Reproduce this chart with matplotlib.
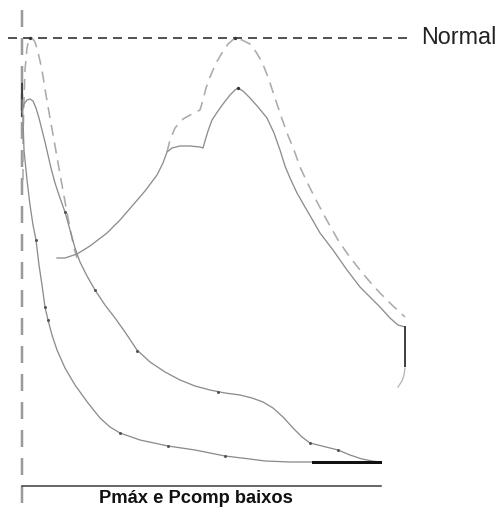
import matplotlib
matplotlib.use("Agg")
import matplotlib.pyplot as plt

plt.rcParams['lines.scale_dashes'] = False

# all coordinates are in picture units (x right, y down)
# dashed "normal" trace, first (left) lobe
norm1_x = [23, 23, 24, 25, 27, 29, 32, 35, 38, 42, 46, 50, 54, 58, 62, 66, 70, 74, 77]
norm1_y = [180, 140, 100, 70, 48, 39, 38, 42, 52, 70, 95, 118, 140, 163, 185, 207, 228, 248, 258]

# dashed "normal" trace, second (right) lobe
norm2_x = [167, 170, 175, 183, 192, 200, 203, 206, 210, 216, 222, 228, 235, 242, 250, 256, 262,
           268, 275, 281, 287, 294, 300, 307, 315, 325, 338, 349, 360, 370, 380, 392, 405]
norm2_y = [152, 140, 128, 119, 114, 110, 100, 88, 77, 63, 53, 44, 38, 40, 44, 52, 62,
           77, 98, 116, 133, 150, 167, 182, 198, 217, 240, 256, 270, 282, 293, 305, 317]

# solid curve A (upper falling curve)
curveA_x = [22, 24, 27, 30, 33, 36, 39, 42, 45, 48, 51, 55, 60, 65, 70, 75, 80, 87, 95, 105, 115,
            125, 137, 150, 165, 180, 195, 210, 225, 240, 252, 263, 273, 283, 293, 302, 310, 322,
            338, 350, 362, 372, 380]
curveA_y = [112, 104, 100, 99, 101, 108, 118, 130, 142, 155, 168, 183, 198, 212, 230, 248, 262,
            276, 290, 305, 318, 332, 350, 362, 372, 380, 386, 390, 393, 395, 398, 402, 408, 417,
            428, 437, 443, 446, 450, 455, 459, 461, 462]
curveA_dots_x = [65, 95, 137, 218, 310, 338]
curveA_dots_y = [212, 290, 351, 392, 443, 450]

# solid curve B (lower curve hugging the axis)
curveB_x = [22, 23, 24, 27, 30, 33, 36, 39, 42, 45, 48, 52, 57, 65, 75, 88, 100, 110, 120, 140,
            168, 195, 225, 250, 265, 290, 313]
curveB_y = [100, 120, 150, 180, 205, 225, 240, 265, 285, 307, 320, 335, 350, 368, 385, 403, 418,
            427, 433, 440, 446, 450, 456, 459, 461, 462, 462]
curveB_dots_x = [36, 45, 48, 120, 168, 225]
curveB_dots_y = [240, 307, 320, 433, 446, 456]

# solid curve C (middle hump)
curveC_x = [57, 65, 77, 90, 107, 120, 133, 145, 157, 163, 167, 172, 180, 190, 200, 203, 205, 208,
            212, 218, 223, 230, 235, 238, 243, 250, 258, 267, 274, 280, 285, 290, 297, 305, 312,
            320, 333, 347, 360, 370, 380, 390, 398, 405]
curveC_y = [258, 258, 254, 246, 233, 220, 205, 191, 175, 163, 152, 148, 146, 146, 147, 148, 141,
            131, 120, 111, 104, 95, 90, 88, 91, 98, 107, 118, 133, 150, 166, 178, 193, 207, 219,
            233, 250, 270, 287, 297, 307, 318, 325, 327]
tail_x = [405, 404, 402, 398]
tail_y = [368, 375, 381, 387]

fig = plt.figure(figsize=(5.02, 5.08), dpi=100)
ax = fig.add_axes([0, 0, 1, 1])
ax.set_xlim(0, 502)
ax.set_ylim(508, 0)
ax.axis('off')

px = 0.72  # pixel -> point

# reference lines
ax.plot([8, 412], [38, 38], color='#555555', lw=2 * px, dashes=(9 * px, 6 * px))
ax.plot([22, 22], [10, 508], color='#9a9a9a', lw=2.5 * px, dashes=(17 * px, 11 * px))
ax.plot([22, 381], [486, 486], color='#444444', lw=1.6 * px)
ax.plot([22, 22], [84, 116], color='#444444', lw=2.2 * px)

# normal trace
for xs, ys in [(norm1_x, norm1_y), (norm2_x, norm2_y)]:
    ax.plot(xs, ys, color='#ababab', lw=1.6 * px, dashes=(11 * px, 7 * px))

# solid traces
for xs, ys in [(curveA_x, curveA_y), (curveB_x, curveB_y), (curveC_x, curveC_y)]:
    ax.plot(xs, ys, color='#8c8c8c', lw=1.3 * px, solid_joinstyle='round')
ax.plot(tail_x, tail_y, color='#b5b5b5', lw=1.3 * px)
ax.plot([405, 405], [327, 366], color='#444444', lw=2 * px)
ax.plot([313, 380], [462, 462], color='#111111', lw=3 * px)

ax.plot(curveA_dots_x + curveB_dots_x, curveA_dots_y + curveB_dots_y, 'o',
        color='#555555', ms=2.2, mec='none')
ax.plot([238, 235, 30], [88, 38, 38], 'o', color='#333333', ms=2.4, mec='none')

ax.text(421, 44, "Normal", fontsize=16.8, va='baseline', ha='left', color='#222222',
        family=['Liberation Sans', 'DejaVu Sans'])
ax.text(196, 503, "Pmáx e Pcomp baixos", fontsize=13.2, fontweight='bold', va='baseline',
        ha='center', color='#111111', family=['Liberation Sans', 'DejaVu Sans'])

fig.savefig('out.png', dpi=100)
